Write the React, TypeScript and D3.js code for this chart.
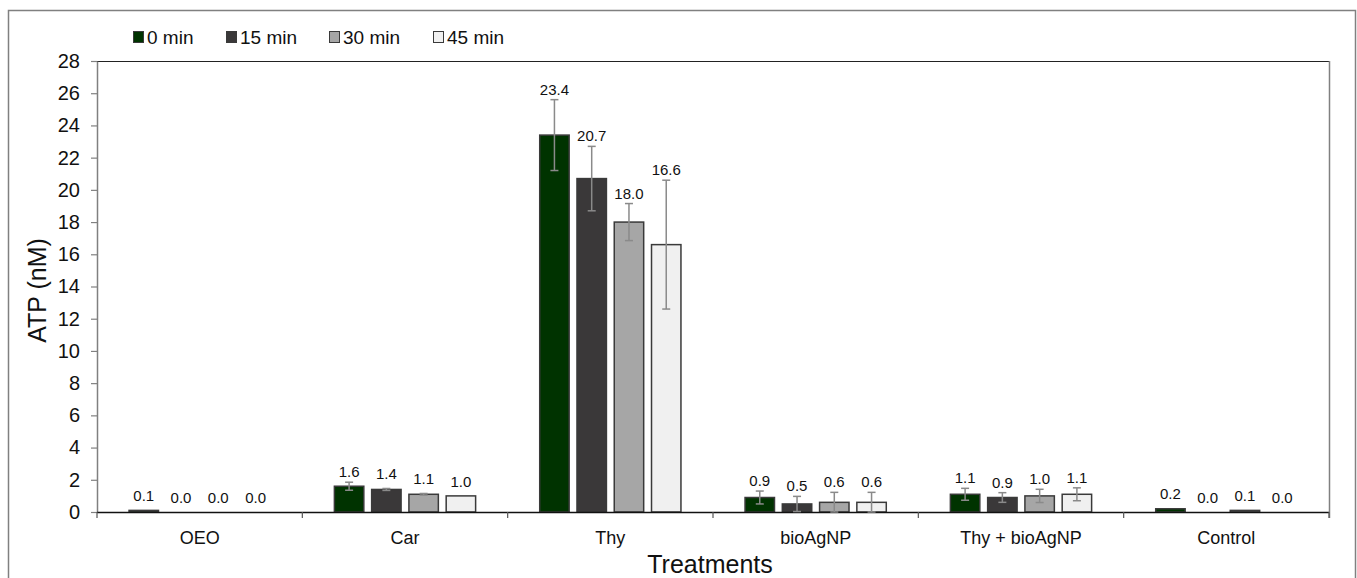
import React, { useRef, useEffect } from 'react';
import * as d3 from 'd3';

const categories = ['OEO', 'Car', 'Thy', 'bioAgNP', 'Thy + bioAgNP', 'Control'];
const seriesNames = ['0 min', '15 min', '30 min', '45 min'];
const seriesColors = ['#003300', '#3a3839', '#a6a6a6', '#f0f0f0'];

const values0 = [0.1, 1.6, 23.4, 0.9, 1.1, 0.2];
const values15 = [0.0, 1.4, 20.7, 0.5, 0.9, 0.0];
const values30 = [0.0, 1.1, 18.0, 0.6, 1.0, 0.1];
const values45 = [0.0, 1.0, 16.6, 0.6, 1.1, 0.0];

const err0 = [0.02, 0.25, 2.2, 0.4, 0.37, 0.02];
const err15 = [0.0, 0.06, 2.0, 0.47, 0.3, 0.0];
const err30 = [0.0, 0.05, 1.15, 0.62, 0.41, 0.01];
const err45 = [0.0, 0.02, 4.0, 0.62, 0.4, 0.0];

const yTicks = [0, 2, 4, 6, 8, 10, 12, 14, 16, 18, 20, 22, 24, 26, 28];

const App = () => {
  const svgRef = useRef(null);

  useEffect(() => {
    const svg = d3.select(svgRef.current);
    svg.selectAll('*').remove();

    const left = 97, right = 1329, top = 61, bottom = 512;
    const font = 'Liberation Sans, Arial, sans-serif';
    const values = [values0, values15, values30, values45];
    const errs = [err0, err15, err30, err45];

    // outer frame
    svg.append('rect')
      .attr('x', 8.5).attr('y', 10.5)
      .attr('width', 1347).attr('height', 580)
      .attr('fill', 'none').attr('stroke', '#808080').attr('stroke-width', 1.5);

    const x0 = d3.scaleBand().domain(categories).range([left, right]).paddingInner(0).paddingOuter(0);
    const x1 = d3.scaleBand().domain(seriesNames).range([0, x0.bandwidth()]).paddingInner(0.21).paddingOuter(0.86);
    const y = d3.scaleLinear().domain([0, 28]).range([bottom, top]);

    // plot frame: top and right
    svg.append('line').attr('x1', left).attr('x2', right).attr('y1', top + 0.5).attr('y2', top + 0.5)
      .attr('stroke', '#222').attr('stroke-width', 1.2);
    svg.append('line').attr('x1', right + 0.5).attr('x2', right + 0.5).attr('y1', top).attr('y2', bottom + 6)
      .attr('stroke', '#808080').attr('stroke-width', 1.5);

    // y axis
    const yAxis = svg.append('g').attr('transform', `translate(${left},0)`)
      .call(d3.axisLeft(y).tickValues(yTicks).tickSize(6).tickPadding(11).tickSizeOuter(0));
    yAxis.select('.domain').attr('stroke', '#808080').attr('stroke-width', 1.5);
    yAxis.selectAll('.tick line').attr('stroke', '#808080').attr('stroke-width', 1.2);
    yAxis.selectAll('text').attr('font-family', font).attr('font-size', 20).attr('fill', '#111');

    // bars
    seriesNames.forEach((s, si) => {
      const g = svg.append('g');
      categories.forEach((c, ci) => {
        const v = values[si][ci];
        const bx = x0(c)! + x1(s)!;
        const bw = x1.bandwidth();
        g.append('rect')
          .attr('x', bx).attr('y', y(v))
          .attr('width', bw).attr('height', Math.max(0, y(0) - y(v)))
          .attr('fill', seriesColors[si])
          .attr('stroke', '#3a3a3a').attr('stroke-width', 1.5);
      });
    });

    // x axis
    const xAxis = svg.append('g').attr('transform', `translate(0,${bottom})`);
    xAxis.append('line').attr('x1', left).attr('x2', right).attr('y1', 0.5).attr('y2', 0.5)
      .attr('stroke', '#111').attr('stroke-width', 1.5);
    const boundaries = categories.map(c => x0(c)!);
    boundaries.concat([right]).forEach(bx => {
      xAxis.append('line').attr('x1', bx).attr('x2', bx).attr('y1', 0).attr('y2', 6)
        .attr('stroke', '#555').attr('stroke-width', 1.2);
    });
    categories.forEach(c => {
      xAxis.append('text')
        .attr('x', x0(c)! + x0.bandwidth() / 2).attr('y', 32)
        .attr('text-anchor', 'middle')
        .attr('font-family', font).attr('font-size', 18).attr('fill', '#111')
        .text(c);
    });

    // error bars and labels
    seriesNames.forEach((s, si) => {
      categories.forEach((c, ci) => {
        const v = values[si][ci];
        const e = errs[si][ci];
        const cx = x0(c)! + x1(s)! + x1.bandwidth() / 2;
        if (e > 0.03) {
          const eg = svg.append('g').attr('stroke', '#8a8a8a').attr('stroke-width', 1.5);
          eg.append('line').attr('x1', cx).attr('x2', cx).attr('y1', y(v + e)).attr('y2', y(Math.max(0, v - e)));
          eg.append('line').attr('x1', cx - 4).attr('x2', cx + 4).attr('y1', y(v + e)).attr('y2', y(v + e));
          eg.append('line').attr('x1', cx - 4).attr('x2', cx + 4).attr('y1', y(Math.max(0, v - e))).attr('y2', y(Math.max(0, v - e)));
        }
        svg.append('text')
          .attr('x', cx).attr('y', y(v + e) - 5 - (e < 0.1 ? 4 : 0))
          .attr('text-anchor', 'middle')
          .attr('font-family', font).attr('font-size', 15).attr('fill', '#111')
          .text(v.toFixed(1));
      });
    });

    // axis titles
    svg.append('text')
      .attr('transform', `translate(46,${(top + bottom) / 2 + 4}) rotate(-90)`)
      .attr('text-anchor', 'middle')
      .attr('font-family', font).attr('font-size', 25).attr('fill', '#111')
      .text('ATP (nM)');
    svg.append('text')
      .attr('x', 710).attr('y', 573)
      .attr('text-anchor', 'middle')
      .attr('font-family', font).attr('font-size', 25).attr('fill', '#111')
      .text('Treatments');

    // legend
    const legendX = [133, 226, 329, 433];
    seriesNames.forEach((s, si) => {
      const lg = svg.append('g').attr('transform', `translate(${legendX[si]},37)`);
      lg.append('rect').attr('x', 0.5).attr('y', -5.5).attr('width', 10).attr('height', 11)
        .attr('fill', seriesColors[si]).attr('stroke', '#3a3a3a').attr('stroke-width', 1);
      lg.append('text').attr('x', 14).attr('y', 7)
        .attr('font-family', font).attr('font-size', 19).attr('fill', '#111')
        .text(s);
    });
  }, []);

  return (
    <svg ref={svgRef} width={1357} height={578}
      style={{ position: 'absolute', left: 0, top: 0, background: '#fff' }} />
  );
};

export default App;
